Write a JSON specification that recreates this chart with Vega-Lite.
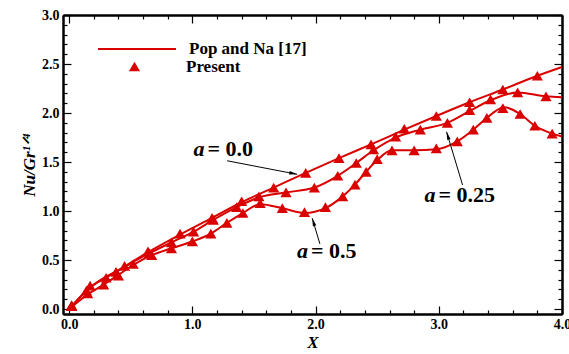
{
  "$schema": "https://vega.github.io/schema/vega-lite/v6.json",
  "width": 499,
  "height": 299,
  "autosize": {"type": "none"},
  "padding": {"left": 63, "top": 15, "right": 7, "bottom": 40},
  "background": "white",
  "config": {
    "view": {"stroke": null},
    "font": "Liberation Serif",
    "axis": {"tickColor": "black", "tickWidth": 1.2, "domainColor": "black", "domainWidth": 2, "grid": false, "labelOverlap": false, "labelFlush": false}
  },
  "datasets": {
    "pop": [
      {"a": "0.0", "x": 0.0, "y": 0.0}, {"a": "0.0", "x": 0.15, "y": 0.2}, {"a": "0.0", "x": 0.38, "y": 0.38}, {"a": "0.0", "x": 0.64, "y": 0.58},
      {"a": "0.0", "x": 0.9, "y": 0.76}, {"a": "0.0", "x": 1.16, "y": 0.93}, {"a": "0.0", "x": 1.4, "y": 1.09}, {"a": "0.0", "x": 1.66, "y": 1.24},
      {"a": "0.0", "x": 1.92, "y": 1.39}, {"a": "0.0", "x": 2.19, "y": 1.54}, {"a": "0.0", "x": 2.45, "y": 1.68}, {"a": "0.0", "x": 2.72, "y": 1.83},
      {"a": "0.0", "x": 2.98, "y": 1.97}, {"a": "0.0", "x": 3.25, "y": 2.11}, {"a": "0.0", "x": 3.52, "y": 2.24}, {"a": "0.0", "x": 3.8, "y": 2.38},
      {"a": "0.0", "x": 4.0, "y": 2.47},
      {"a": "0.25", "x": 0.0, "y": 0.0}, {"a": "0.25", "x": 0.17, "y": 0.22}, {"a": "0.25", "x": 0.45, "y": 0.43}, {"a": "0.25", "x": 0.65, "y": 0.57},
      {"a": "0.25", "x": 0.83, "y": 0.68}, {"a": "0.25", "x": 1.01, "y": 0.79}, {"a": "0.25", "x": 1.17, "y": 0.91}, {"a": "0.25", "x": 1.36, "y": 1.04},
      {"a": "0.25", "x": 1.54, "y": 1.14}, {"a": "0.25", "x": 1.76, "y": 1.19}, {"a": "0.25", "x": 1.99, "y": 1.24}, {"a": "0.25", "x": 2.18, "y": 1.36},
      {"a": "0.25", "x": 2.33, "y": 1.49}, {"a": "0.25", "x": 2.47, "y": 1.62}, {"a": "0.25", "x": 2.65, "y": 1.75}, {"a": "0.25", "x": 2.85, "y": 1.83},
      {"a": "0.25", "x": 3.07, "y": 1.9}, {"a": "0.25", "x": 3.25, "y": 2.02}, {"a": "0.25", "x": 3.42, "y": 2.13}, {"a": "0.25", "x": 3.64, "y": 2.21},
      {"a": "0.25", "x": 3.87, "y": 2.17}, {"a": "0.25", "x": 4.0, "y": 2.16},
      {"a": "0.5", "x": 0.0, "y": 0.0}, {"a": "0.5", "x": 0.15, "y": 0.15}, {"a": "0.5", "x": 0.28, "y": 0.25}, {"a": "0.5", "x": 0.4, "y": 0.35},
      {"a": "0.5", "x": 0.52, "y": 0.45}, {"a": "0.5", "x": 0.67, "y": 0.55}, {"a": "0.5", "x": 0.83, "y": 0.62}, {"a": "0.5", "x": 1.0, "y": 0.69},
      {"a": "0.5", "x": 1.15, "y": 0.77}, {"a": "0.5", "x": 1.28, "y": 0.88}, {"a": "0.5", "x": 1.41, "y": 0.98}, {"a": "0.5", "x": 1.55, "y": 1.07},
      {"a": "0.5", "x": 1.73, "y": 1.03}, {"a": "0.5", "x": 1.91, "y": 0.98}, {"a": "0.5", "x": 2.08, "y": 1.03}, {"a": "0.5", "x": 2.22, "y": 1.15},
      {"a": "0.5", "x": 2.32, "y": 1.27}, {"a": "0.5", "x": 2.41, "y": 1.4}, {"a": "0.5", "x": 2.5, "y": 1.52}, {"a": "0.5", "x": 2.62, "y": 1.62},
      {"a": "0.5", "x": 2.8, "y": 1.62}, {"a": "0.5", "x": 2.98, "y": 1.63}, {"a": "0.5", "x": 3.15, "y": 1.71}, {"a": "0.5", "x": 3.28, "y": 1.83},
      {"a": "0.5", "x": 3.39, "y": 1.95}, {"a": "0.5", "x": 3.53, "y": 2.06}, {"a": "0.5", "x": 3.66, "y": 1.99}, {"a": "0.5", "x": 3.78, "y": 1.87},
      {"a": "0.5", "x": 3.92, "y": 1.79}, {"a": "0.5", "x": 4.0, "y": 1.76}
    ],
    "present": [
      {"a": "0.0", "x": 0.02, "y": 0.03}, {"a": "0.0", "x": 0.14, "y": 0.19}, {"a": "0.0", "x": 0.38, "y": 0.38}, {"a": "0.0", "x": 0.64, "y": 0.59},
      {"a": "0.0", "x": 0.9, "y": 0.77}, {"a": "0.0", "x": 1.16, "y": 0.93}, {"a": "0.0", "x": 1.4, "y": 1.1}, {"a": "0.0", "x": 1.66, "y": 1.24},
      {"a": "0.0", "x": 1.92, "y": 1.39}, {"a": "0.0", "x": 2.19, "y": 1.54}, {"a": "0.0", "x": 2.45, "y": 1.68}, {"a": "0.0", "x": 2.72, "y": 1.84},
      {"a": "0.0", "x": 2.98, "y": 1.97}, {"a": "0.0", "x": 3.25, "y": 2.11}, {"a": "0.0", "x": 3.52, "y": 2.24}, {"a": "0.0", "x": 3.8, "y": 2.38},
      {"a": "0.25", "x": 0.02, "y": 0.04}, {"a": "0.25", "x": 0.17, "y": 0.24}, {"a": "0.25", "x": 0.3, "y": 0.32}, {"a": "0.25", "x": 0.45, "y": 0.44},
      {"a": "0.25", "x": 0.65, "y": 0.57}, {"a": "0.25", "x": 0.83, "y": 0.68}, {"a": "0.25", "x": 1.01, "y": 0.79}, {"a": "0.25", "x": 1.17, "y": 0.91},
      {"a": "0.25", "x": 1.36, "y": 1.04}, {"a": "0.25", "x": 1.54, "y": 1.15}, {"a": "0.25", "x": 1.76, "y": 1.19}, {"a": "0.25", "x": 1.99, "y": 1.24},
      {"a": "0.25", "x": 2.18, "y": 1.36}, {"a": "0.25", "x": 2.33, "y": 1.49}, {"a": "0.25", "x": 2.47, "y": 1.63}, {"a": "0.25", "x": 2.65, "y": 1.76},
      {"a": "0.25", "x": 2.85, "y": 1.83}, {"a": "0.25", "x": 3.07, "y": 1.9}, {"a": "0.25", "x": 3.25, "y": 2.03}, {"a": "0.25", "x": 3.42, "y": 2.14},
      {"a": "0.25", "x": 3.64, "y": 2.21}, {"a": "0.25", "x": 3.87, "y": 2.17},
      {"a": "0.5", "x": 0.02, "y": 0.03}, {"a": "0.5", "x": 0.15, "y": 0.16}, {"a": "0.5", "x": 0.28, "y": 0.25}, {"a": "0.5", "x": 0.4, "y": 0.34},
      {"a": "0.5", "x": 0.52, "y": 0.46}, {"a": "0.5", "x": 0.67, "y": 0.55}, {"a": "0.5", "x": 0.83, "y": 0.62}, {"a": "0.5", "x": 1.0, "y": 0.69},
      {"a": "0.5", "x": 1.15, "y": 0.77}, {"a": "0.5", "x": 1.28, "y": 0.88}, {"a": "0.5", "x": 1.41, "y": 0.98}, {"a": "0.5", "x": 1.55, "y": 1.08},
      {"a": "0.5", "x": 1.73, "y": 1.03}, {"a": "0.5", "x": 1.91, "y": 0.99}, {"a": "0.5", "x": 2.08, "y": 1.04}, {"a": "0.5", "x": 2.22, "y": 1.15},
      {"a": "0.5", "x": 2.32, "y": 1.27}, {"a": "0.5", "x": 2.41, "y": 1.4}, {"a": "0.5", "x": 2.5, "y": 1.53}, {"a": "0.5", "x": 2.62, "y": 1.62},
      {"a": "0.5", "x": 2.8, "y": 1.62}, {"a": "0.5", "x": 2.98, "y": 1.64}, {"a": "0.5", "x": 3.15, "y": 1.71}, {"a": "0.5", "x": 3.28, "y": 1.83},
      {"a": "0.5", "x": 3.39, "y": 1.95}, {"a": "0.5", "x": 3.52, "y": 2.05}, {"a": "0.5", "x": 3.66, "y": 1.99}, {"a": "0.5", "x": 3.78, "y": 1.87},
      {"a": "0.5", "x": 3.92, "y": 1.79}
    ],
    "ann": [
      {"a": "0.0", "x": 1.11, "y": 1.634, "rest": "= 0.0"},
      {"a": "0.25", "x": 2.986, "y": 1.164, "rest": "= 0.25"},
      {"a": "0.5", "x": 1.951, "y": 0.596, "rest": "= 0.5"}
    ],
    "arrows": [
      {"a": "0.0", "x": 1.282, "y": 1.513, "x2": 1.851, "y2": 1.375},
      {"a": "0.25", "x": 3.193, "y": 1.266, "x2": 3.063, "y2": 1.809},
      {"a": "0.5", "x": 2.035, "y": 0.665, "x2": 1.973, "y2": 0.927}
    ]
  },
  "layer": [
    {
      "data": {"name": "pop"},
      "mark": {"type": "line", "interpolate": "monotone", "strokeWidth": 2},
      "encoding": {
        "x": {
          "field": "x", "type": "quantitative",
          "scale": {"domain": [-0.05, 4.0], "nice": false, "zero": false},
          "axis": {"orient": "bottom", "values": [0, 1, 2, 3, 4], "format": ".1f", "tickSize": -8, "labelPadding": 11,
            "labelFont": "Liberation Serif", "labelFontWeight": "bold", "labelFontSize": 14, "labelColor": "black",
            "title": "X", "titlePadding": 3, "titleFont": "Liberation Serif", "titleFontStyle": "italic", "titleFontWeight": "bold", "titleFontSize": 17, "titleColor": "black"}
        },
        "y": {
          "field": "y", "type": "quantitative",
          "scale": {"domain": [-0.05, 3.0], "nice": false, "zero": false},
          "axis": {"orient": "left", "values": [0, 0.5, 1, 1.5, 2, 2.5, 3], "format": ".1f", "tickSize": -8, "labelPadding": 12,
            "labelFont": "Liberation Serif", "labelFontWeight": "bold", "labelFontSize": 14, "labelColor": "black",
            "title": "Nu/Gr¹ᐟ⁴", "titlePadding": 3, "titleFont": "Liberation Serif", "titleFontStyle": "italic", "titleFontWeight": "bold", "titleFontSize": 17, "titleColor": "black"}
        },
        "detail": {"field": "a", "type": "nominal"},
        "stroke": {
          "datum": "Pop and Na [17]",
          "scale": {"range": ["#da0000"]},
          "legend": {
            "orient": "none", "legendX": 34, "legendY": -6, "title": null, "padding": 0,
            "symbolType": "stroke", "symbolSize": 6084, "symbolStrokeWidth": 2, "symbolStrokeColor": "#da0000",
            "labelFont": "Liberation Serif", "labelFontWeight": "bold", "labelFontSize": 17, "labelColor": "black", "labelOffset": 12
          }
        }
      }
    },
    {
      "data": {"name": "present"},
      "mark": {"type": "point", "filled": true, "size": 125, "opacity": 1, "color": "#da0000"},
      "encoding": {
        "x": {
          "field": "x", "type": "quantitative",
          "axis": {"orient": "top", "values": [0, 1, 2, 3, 4], "title": null, "labels": false, "tickSize": -8}
        },
        "y": {
          "field": "y", "type": "quantitative",
          "axis": {"orient": "right", "values": [0, 0.5, 1, 1.5, 2, 2.5, 3], "title": null, "labels": false, "tickSize": -8}
        },
        "shape": {
          "datum": "Present",
          "scale": {"range": ["triangle-up"]},
          "legend": {
            "orient": "none", "legendX": 63, "legendY": 43, "title": null, "padding": 0,
            "symbolSize": 125, "symbolFillColor": "#da0000", "symbolStrokeColor": "#da0000", "symbolStrokeWidth": 0,
            "labelFont": "Liberation Serif", "labelFontWeight": "bold", "labelFontSize": 17, "labelColor": "black", "labelOffset": 43
          }
        }
      }
    },
    {
      "data": {"name": "arrows"},
      "mark": {"type": "rule", "color": "black", "strokeWidth": 1},
      "encoding": {
        "x": {"field": "x", "type": "quantitative", "axis": {"orient": "bottom", "values": [0.2, 0.4, 0.6, 0.8, 1.2, 1.4, 1.6, 1.8, 2.2, 2.4, 2.6, 2.8, 3.2, 3.4, 3.6, 3.8], "title": null, "labels": false, "tickSize": -4}},
        "y": {"field": "y", "type": "quantitative", "axis": {"orient": "left", "values": [0.1, 0.2, 0.3, 0.4, 0.6, 0.7, 0.8, 0.9, 1.1, 1.2, 1.3, 1.4, 1.6, 1.7, 1.8, 1.9, 2.1, 2.2, 2.3, 2.4, 2.6, 2.7, 2.8, 2.9], "title": null, "labels": false, "tickSize": -4}},
        "x2": {"field": "x2"},
        "y2": {"field": "y2"}
      }
    },
    {
      "data": {"name": "arrows"},
      "transform": [{"filter": "datum.a === '0.0'"}],
      "mark": {"type": "point", "shape": "M0,0L-0.22,1L0.22,1Z", "size": 256, "filled": true, "color": "black", "opacity": 1, "angle": 101},
      "encoding": {
        "x": {"field": "x2", "type": "quantitative", "axis": {"orient": "top", "values": [0.2, 0.4, 0.6, 0.8, 1.2, 1.4, 1.6, 1.8, 2.2, 2.4, 2.6, 2.8, 3.2, 3.4, 3.6, 3.8], "title": null, "labels": false, "tickSize": -4}},
        "y": {"field": "y2", "type": "quantitative", "axis": {"orient": "right", "values": [0.1, 0.2, 0.3, 0.4, 0.6, 0.7, 0.8, 0.9, 1.1, 1.2, 1.3, 1.4, 1.6, 1.7, 1.8, 1.9, 2.1, 2.2, 2.3, 2.4, 2.6, 2.7, 2.8, 2.9], "title": null, "labels": false, "tickSize": -4}}
      }
    },
    {
      "data": {"name": "arrows"},
      "transform": [{"filter": "datum.a !== '0.0'"}],
      "mark": {"type": "point", "shape": "M0,0L-0.22,1L0.22,1Z", "size": 256, "filled": true, "color": "black", "opacity": 1, "angle": 343},
      "encoding": {
        "x": {"field": "x2", "type": "quantitative", "axis": null},
        "y": {"field": "y2", "type": "quantitative", "axis": null}
      }
    },
    {
      "data": {"name": "ann"},
      "mark": {"type": "text", "text": "a", "align": "right", "baseline": "middle", "dx": -1.5, "font": "Liberation Serif", "fontSize": 22, "fontStyle": "italic", "fontWeight": "bold", "color": "black"},
      "encoding": {
        "x": {"field": "x", "type": "quantitative", "axis": null},
        "y": {"field": "y", "type": "quantitative", "axis": null}
      }
    },
    {
      "data": {"name": "ann"},
      "mark": {"type": "text", "align": "left", "baseline": "middle", "dx": 1.5, "font": "Liberation Serif", "fontSize": 22, "fontWeight": "bold", "color": "black"},
      "encoding": {
        "x": {"field": "x", "type": "quantitative", "axis": null},
        "y": {"field": "y", "type": "quantitative", "axis": null},
        "text": {"field": "rest"}
      }
    }
  ],
  "resolve": {"axis": {"x": "independent", "y": "independent"}}
}
